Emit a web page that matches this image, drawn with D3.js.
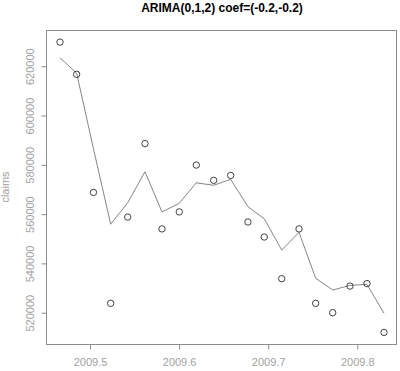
<!DOCTYPE html>
<html><head><meta charset="utf-8">
<script src="https://cdn.jsdelivr.net/npm/d3@7"></script>
<style>body{margin:0;background:#fff;} svg{display:block;font-family:"Liberation Sans",Arial,sans-serif;}</style>
</head><body>
<script>
const title = "ARIMA(0,1,2) coef=(-0.2,-0.2)";
const yLabel = "claims";
const times = [2009.4663,2009.4850,2009.5039,2009.5232,2009.5423,2009.5617,2009.5808,2009.6002,2009.6193,2009.6388,2009.6579,2009.6773,2009.6956,2009.7152,2009.7346,2009.7533,2009.7724,2009.7918,2009.8109,2009.8300];
const claims = [629800,616700,568800,523800,558800,588600,554000,560900,579900,573700,575700,556800,550700,533800,554000,523800,520000,530800,531800,512000];
const fitted = [623400,617200,586500,555900,564600,577200,560900,564400,572700,571700,574100,563000,558100,545400,552600,534000,529200,531100,531500,519800];
const xTicks = [2009.5,2009.6,2009.7,2009.8];
const yTicks = [520000,540000,560000,580000,600000,620000];

const W=400,H=371, L=46,R=397,T=30,B=344;
const svg=d3.select("body").append("svg").attr("width",W).attr("height",H);
const x=d3.scaleLinear().domain([2009.4506,2009.8446]).range([L,R]);
const y=d3.scaleLinear().domain([507300,634700]).range([B,T]);
const grey="#8c8c8c", txt="#a2a2a2";

svg.append("text").attr("x",222).attr("y",12).attr("text-anchor","middle")
  .attr("font-weight","bold").attr("font-size",12).attr("fill","#000").text(title);

svg.append("rect").attr("x",L+0.5).attr("y",T+0.5).attr("width",R-L-1).attr("height",B-T)
  .attr("fill","none").attr("stroke",grey).attr("stroke-width",1);

const xa=svg.append("g").attr("transform",`translate(0,${B+0.5})`)
  .call(d3.axisBottom(x).tickValues(xTicks).tickFormat(d3.format(".1f")).tickSize(5).tickPadding(9));
xa.select(".domain").remove();
xa.selectAll("line").attr("stroke",grey);
xa.selectAll("text").attr("fill",txt).attr("font-size",11).attr("font-family","Liberation Sans, Arial, sans-serif");

const ya=svg.append("g").attr("transform",`translate(${L+0.5},0)`)
  .call(d3.axisLeft(y).tickValues(yTicks).tickFormat(d3.format("d")).tickSize(5).tickPadding(0));
ya.select(".domain").remove();
ya.selectAll("line").attr("stroke",grey);
ya.selectAll("text").attr("fill",txt).attr("font-size",11).attr("font-family","Liberation Sans, Arial, sans-serif")
  .attr("text-anchor","middle").attr("x",0).attr("dy",null)
  .attr("transform","translate(-13,0) rotate(-90)");

svg.append("text").attr("transform",`translate(9,187) rotate(-90)`).attr("text-anchor","middle")
  .attr("fill",txt).attr("font-size",11).text(yLabel);

const line=d3.line().x((d,i)=>x(times[i])).y(d=>y(d));
svg.append("path").datum(fitted).attr("d",line).attr("fill","none").attr("stroke","#777").attr("stroke-width",0.9);

svg.selectAll("circle.p").data(claims).enter().append("circle")
  .attr("cx",(d,i)=>x(times[i])).attr("cy",d=>y(d)).attr("r",3.2)
  .attr("fill","none").attr("stroke","#222").attr("stroke-width",0.85);
</script>
</body></html>
